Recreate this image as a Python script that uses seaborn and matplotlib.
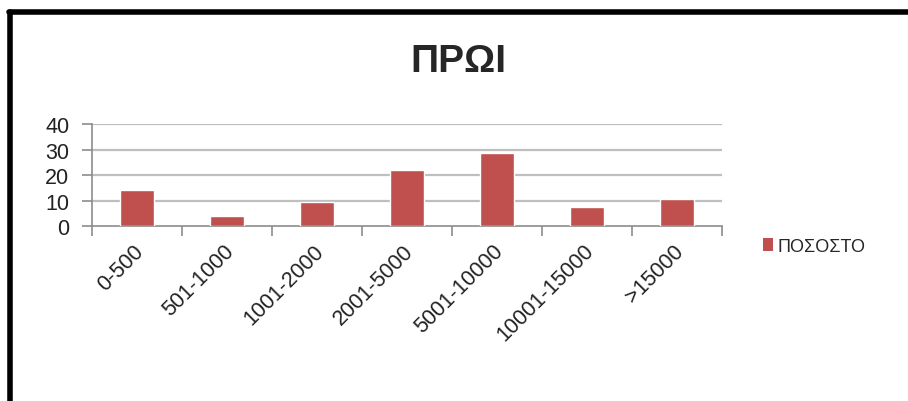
import numpy as np
import pandas as pd
import seaborn as sns
import matplotlib.pyplot as plt
import matplotlib.transforms as mtransforms
from matplotlib.lines import Line2D
from matplotlib.patches import Patch

categories = ['0-500', '501-1000', '1001-2000', '2001-5000', '5001-10000', '10001-15000', '>15000']
values = [14, 4, 9.3, 22.1, 28.6, 7.6, 10.7]
series_name = 'ΠΟΣΟΣΤΟ'
title = 'ΠΡΩΙ'

df = pd.DataFrame({'range': categories, 'pct': values})

sns.set_style('white')
plt.rcParams['font.family'] = ['Liberation Sans', 'DejaVu Sans']

bar_color = '#C0504D'
grid_color = '#BFBFBF'
axis_color = '#8C8C8C'

fig = plt.figure(figsize=(9.08, 4.02), dpi=100)
ax = fig.add_axes([0.101, 0.435, 0.694, 0.254])

sns.barplot(data=df, x='range', y='pct', color=bar_color, width=0.38,
            saturation=1, ax=ax, zorder=3)

ax.set_ylim(0, 40)
ax.set_xlim(-0.5, len(categories) - 0.5)
ax.set_yticks([0, 10, 20, 30, 40])
ax.set_xlabel('')
ax.set_ylabel('')
for y in [10, 20, 30, 40]:
    ax.axhline(y, color=grid_color, lw=1.6, zorder=1)

for s in ['top', 'right']:
    ax.spines[s].set_visible(False)
ax.spines['left'].set_color(axis_color)
ax.spines['bottom'].set_color(axis_color)
ax.spines['left'].set_linewidth(1.2)
ax.spines['bottom'].set_linewidth(1.2)

# category boundary ticks below the axis
ax.set_xticks(np.arange(len(categories) + 1) - 0.5, minor=True)
ax.tick_params(axis='x', which='minor', length=7, width=1.2, color=axis_color, direction='out', bottom=True)
ax.tick_params(axis='x', which='major', length=0, pad=10, labelsize=15.5)
ax.tick_params(axis='y', length=7, width=1.2, color=axis_color, direction='out', left=True,
               labelsize=15.5, pad=9, labelcolor='#222222')
ax.set_xticks(range(len(categories)))
ax.set_xticklabels(categories, rotation=45, ha='right', rotation_mode='default', color='#222222')
shift = mtransforms.ScaledTranslation(8 / 72, 0, fig.dpi_scale_trans)
for lab in ax.get_xticklabels():
    lab.set_transform(lab.get_transform() + shift)

fig.text(0.505, 0.845, title, ha='center', va='center', fontsize=28, fontweight='bold')

handles = [Patch(facecolor=bar_color, edgecolor='none')]
fig.legend(handles, [series_name], loc='center left', bbox_to_anchor=(0.822, 0.385),
           frameon=False, fontsize=13, handlelength=0.6, handleheight=0.8, handletextpad=0.25)

# black frame on the top and left edges
fig.add_artist(Line2D([0.01, 1.0], [0.968, 0.968], transform=fig.transFigure, color='black', lw=4))
fig.add_artist(Line2D([0.0105, 0.0105], [0.0, 0.968], transform=fig.transFigure, color='black', lw=4))

fig.savefig('out.png', dpi=100)
